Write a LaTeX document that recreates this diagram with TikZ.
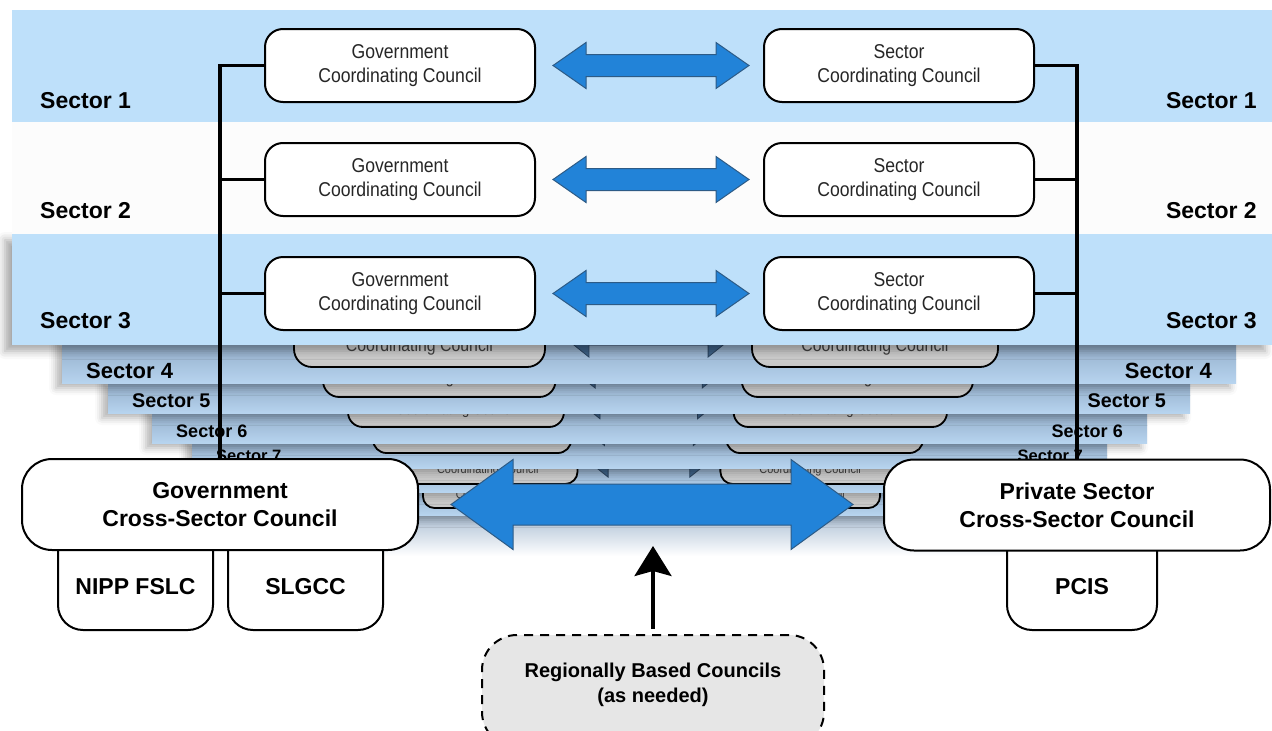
\documentclass[tikz,border=0pt]{standalone}
\usepackage{fontspec}
\setmainfont{Liberation Sans}
\newfontfamily\narrowfont[FakeStretch=0.88]{Liberation Sans}
\usetikzlibrary{positioning,calc,arrows.meta,shadows.blur}

\definecolor{bandblue}{HTML}{BEE0FA}
\definecolor{bandtop}{HTML}{8FA9C5}
\definecolor{bandbot}{HTML}{B7D4EF}
\definecolor{arrowblue}{HTML}{2283D8}
\definecolor{arrowline}{HTML}{2D5B86}
\definecolor{arrowdark}{HTML}{3F6389}
\definecolor{regionfill}{HTML}{E6E6E6}

\tikzset{
  council/.style={draw, line width=2pt, rounded corners=18pt, fill=white, align=center,
    minimum width=270pt, minimum height=73pt, text=black!85, font=\narrowfont\fontsize{20}{24}\selectfont},
  crossbox/.style={draw, line width=2pt, rounded corners=30pt, fill=white, align=center,
    minimum height=91pt, font=\bfseries\fontsize{23}{28}\selectfont},
  subbox/.style={draw, line width=2pt, rounded corners=25pt, fill=white,
    minimum width=155pt, minimum height=130pt, text height=60pt, font=\bfseries\fontsize{23}{28}\selectfont},
  regionbox/.style={draw, dashed, dash pattern=on 9pt off 7pt, line width=2pt, rounded corners=35pt,
    fill=regionfill, align=center, minimum width=342pt, minimum height=112pt, text depth=16pt,
    font=\bfseries\fontsize{20}{25}\selectfont},
  sectorlbl/.style={inner sep=0pt, font=\bfseries\fontsize{23}{28}\selectfont},
  backbox/.style={draw, line width=1.8pt, top color=gray!10, bottom color=gray!45,
    inner sep=0pt, text=black!75},
  backband/.style={top color=bandtop, bottom color=bandbot,
    blur shadow={shadow xshift=-6pt, shadow yshift=-5pt, shadow blur radius=7pt, shadow opacity=30}},
  blockarrow/.style={fill=arrowblue, draw=arrowline, line width=1pt},
  trunk/.style={line width=3.5pt},
}

% block arrow with two heads: tips #2 and #3, shaft half, head half, head length
\newcommand\blockarrow[6][]{%
  \draw[blockarrow,#1] let \p1=(#2), \p2=(#3) in
    (\x1,\y1) -- (\x1+#6,\y1+#5) -- (\x1+#6,\y1+#4) -- (\x2-#6,\y1+#4) -- (\x2-#6,\y1+#5)
    -- (\x2,\y1) -- (\x2-#6,\y1-#5) -- (\x2-#6,\y1-#4) -- (\x1+#6,\y1-#4) -- (\x1+#6,\y1-#5) -- cycle;}

% one sector further back: number, band left/right/top/bottom, box left/right/bottom, scale
\newcommand\backlayer[9]{%
  \pgfmathsetmacro\bkgr{650-105*#9}%
  \pgfmathsetmacro\bksl{650+102*#9}%
  \pgfmathsetmacro\bkh{60*#9}%
  \pgfmathsetmacro\bkmy{#8-30*#9}%
  \pgfmathsetmacro\bkgw{\bkgr-#6}%
  \pgfmathsetmacro\bksw{#7-\bksl}%
  \pgfmathsetmacro\bkfs{22*#9}%
  \pgfmathsetmacro\bktf{18*#9}%
  \pgfmathsetmacro\bkth{33*#9}%
  \pgfmathsetmacro\bkr{18*#9}%
  \pgfmathsetmacro\bkgap{18*#9}%
  \path[backband] (#2,#4) rectangle (#3,#5);
  \ifnum#1<8
    \node[sectorlbl, font=\bfseries\fontsize{\bkfs}{\bkfs}\selectfont, anchor=west] (l#1) at (#2+24,#5-12) {Sector #1};
    \node[sectorlbl, font=\bfseries\fontsize{\bkfs}{\bkfs}\selectfont, anchor=east] (r#1) at (#3-24,#5-12) {Sector #1};
  \fi
  \node[backbox, minimum width=\bkgw pt, minimum height=\bkh pt, rounded corners=\bkr pt, text height=\bkth pt,
    font=\narrowfont\fontsize{\bktf}{\bktf}\selectfont] (g#1) at ({(#6+\bkgr)/2},\bkmy) {Coordinating Council};
  \node[backbox, minimum width=\bksw pt, minimum height=\bkh pt, rounded corners=\bkr pt, text height=\bkth pt,
    font=\narrowfont\fontsize{\bktf}{\bktf}\selectfont] (s#1) at ({(\bksl+#7)/2},\bkmy) {Coordinating Council};
  \blockarrow[fill=arrowdark, draw=arrowdark!70!black, line width=0.8pt]{[xshift=\bkgap pt]g#1.east}{[xshift=-\bkgap pt]s#1.west}{8*#9}{20*#9}{25*#9}%
}

\begin{document}
\begin{tikzpicture}[x=1pt, y=-1pt]
  \useasboundingbox (0,0) rectangle (1272,731);

  % fade below the stack
  \shade[top color=bandtop, bottom color=white] (262,500) rectangle (1038,556);

  % sectors further back, back to front
  \backlayer{9}{265}{1035}{486}{515}{423}{880}{508}{0.64}
  \backlayer{8}{230}{1070}{463}{492}{398}{900}{484}{0.69}
  \backlayer{7}{192}{1107}{438}{468}{373}{923}{453}{0.75}
  \backlayer{6}{152}{1147}{408}{443}{348}{947}{427}{0.82}
  \backlayer{5}{108}{1190}{378}{413}{323}{973}{397}{0.9}
  \backlayer{4}{62}{1236}{338}{383}{294}{998}{367}{1}

  % front sectors
  \path[fill=bandblue, blur shadow={shadow xshift=-7pt, shadow yshift=-6pt, shadow blur radius=8pt, shadow opacity=35}]
    (12,234) rectangle (1272,345);
  \fill[white!99!black] (12,122) rectangle (1272,234);
  \fill[bandblue] (12,10) rectangle (1272,122);

  \node[sectorlbl, anchor=west] (l1) at (40,101) {Sector 1};
  \node[sectorlbl, anchor=east] (r1) at (1257,101) {Sector 1};
  \node[sectorlbl, anchor=west] (l2) at (40,211) {Sector 2};
  \node[sectorlbl, anchor=east] (r2) at (1257,211) {Sector 2};
  \node[sectorlbl, anchor=west] (l3) at (40,321) {Sector 3};
  \node[sectorlbl, anchor=east] (r3) at (1257,321) {Sector 3};

  \node[council] (g1) at (400,65.5) {Government\\Coordinating Council};
  \node[council, right=227pt of g1] (s1) {Sector\\Coordinating Council};
  \node[council, below=39pt of g1] (g2) {Government\\Coordinating Council};
  \node[council, right=227pt of g2] (s2) {Sector\\Coordinating Council};
  \node[council, below=39pt of g2] (g3) {Government\\Coordinating Council};
  \node[council, right=227pt of g3] (s3) {Sector\\Coordinating Council};

  \blockarrow{[xshift=17pt]g1.east}{[xshift=-14pt]s1.west}{11}{23}{33}
  \blockarrow{[xshift=17pt]g2.east}{[xshift=-14pt]s2.west}{11}{23}{33}
  \blockarrow{[xshift=17pt]g3.east}{[xshift=-14pt]s3.west}{11}{23}{33}

  % cross-sector level
  \node[subbox] (nipp) at (135.5,565) {NIPP FSLC};
  \node[subbox] (slgcc) at (305.5,565) {SLGCC};
  \node[subbox, minimum width=150pt] (pcis) at (1082,565) {PCIS};
  \node[crossbox, minimum width=396pt] (gcsc) at (220,504.5) {Government\\Cross-Sector Council};
  \node[crossbox, minimum width=386pt] (pcsc) at (1077,505) {Private Sector\\Cross-Sector Council};

  \draw[trunk] (g1.west) -| (gcsc.north);
  \draw[trunk] (g2.west) -- (g2.west -| gcsc.north);
  \draw[trunk] (g3.west) -- (g3.west -| gcsc.north);
  \draw[trunk] (s1.east) -| (pcsc.north);
  \draw[trunk] (s2.east) -- (s2.east -| pcsc.north);
  \draw[trunk] (s3.east) -- (s3.east -| pcsc.north);

  \blockarrow{[xshift=32pt]gcsc.east}{[xshift=-30pt]pcsc.west}{20.5}{45}{62}

  % regional councils
  \node[regionbox] (rbc) at (653,691) {Regionally Based Councils\\(as needed)};
  \coordinate (uptip) at (653,546);
  \draw[line width=3.5pt, shorten <=5pt, -{Stealth[length=30pt, width=37pt, inset=5pt, fill=black]}] (rbc.north) -- (uptip);
\end{tikzpicture}
\end{document}
